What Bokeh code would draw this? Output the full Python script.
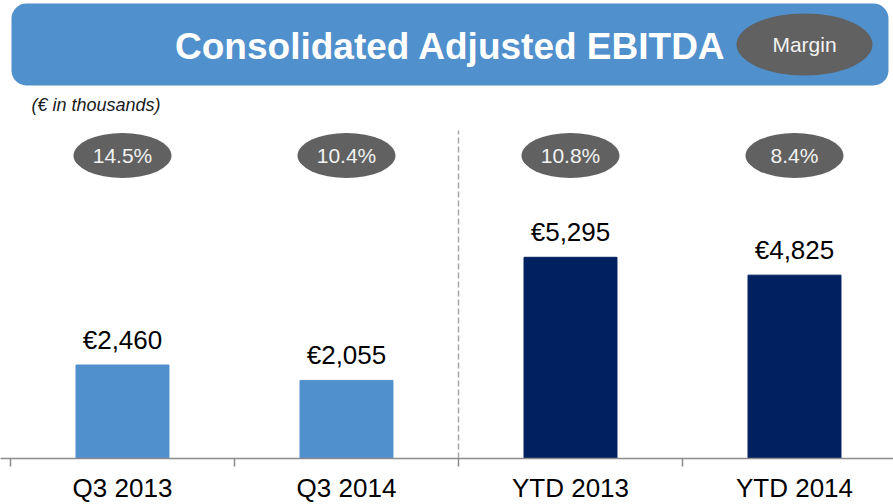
from bokeh.plotting import figure
from bokeh.models import ColumnDataSource, Range1d, BoxAnnotation, FixedTicker, Label
from bokeh.core.properties import value
from bokeh.embed import file_html
from bokeh.resources import INLINE

# ---- data ----
categories = ["Q3 2013", "Q3 2014", "YTD 2013", "YTD 2014"]
ebitda = [2460, 2055, 5295, 4825]          # € thousands
margins = [14.5, 10.4, 10.8, 8.4]          # %
title_text = "Consolidated Adjusted EBITDA"
unit_note = "(€ in thousands)"
badge_text = "Margin"

FONT = "Liberation Sans"
LIGHT = "#4F90CD"
DARK = "#002060"
GREY = "#616161"

n = len(categories)
xs = list(range(n))
bar_colors = [LIGHT, LIGHT, DARK, DARK]

src = ColumnDataSource(dict(
    x=xs,
    top=ebitda,
    color=bar_colors,
    label=[f"€{v:,}" for v in ebitda],
    mlabel=[f"{m:.1f}%" for m in margins],
    my=[7974] * n,
))

p = figure(frame_width=893, frame_height=458, output_backend="svg", toolbar_location=None,
           x_range=Range1d(-0.5446, 3.442), y_range=Range1d(0, 12053),
           y_axis_location=None,
           min_border_left=0, min_border_right=0, min_border_top=0, min_border_bottom=0)
p.outline_line_color = None
p.grid.visible = False
p.background_fill_color = "white"

# banner
banner = BoxAnnotation(left=-0.4955, right=3.4196, top=11974, bottom=9816,
                       fill_color=LIGHT, fill_alpha=1.0, line_color=None,
                       border_radius=15, level="underlay")
p.add_layout(banner)

p.add_layout(Label(x=1.4643, y=10842, text=title_text, text_align="center",
                   text_baseline="middle", text_font=FONT, text_font_style="bold",
                   text_font_size="37px", text_color="white"))

p.ellipse(x=[3.0446], y=[10895], width=136, height=62, width_units="screen",
          height_units="screen", fill_color=GREY, line_color=None)
p.text(x=[3.0446], y=[10895], text=[badge_text], text_align="center",
       text_baseline="middle", text_font=value(FONT), text_font_size="21px",
       text_color="#f2f2f2")

p.add_layout(Label(x=-0.4062, y=9316, text=unit_note, text_align="left",
                   text_baseline="middle", text_font=FONT, text_font_style="italic",
                   text_font_size="18px", text_color="#1a1a1a"))

# separator
p.segment(x0=[(n - 1) / 2], y0=[0], x1=[(n - 1) / 2], y1=[8632],
          line_dash="6 3", line_color="#a6a6a6", line_width=1.5)

# bars
p.vbar(x="x", top="top", width=0.415, bottom=0, color="color", source=src)

# value labels
p.text(x="x", y="top", text="label", source=src, text_align="center",
       text_baseline="alphabetic", y_offset=-25, text_font=value(FONT),
       text_font_size="26px", text_color="black")

# margin badges
p.ellipse(x="x", y="my", width=98, height=45, width_units="screen",
          height_units="screen", fill_color=GREY, line_color=None, source=src)
p.text(x="x", y="my", text="mlabel", source=src, text_align="center",
       text_baseline="middle", text_font=value(FONT), text_font_size="21px",
       text_color="#f2f2f2")

# x axis
ax = p.xaxis[0]
ax.ticker = FixedTicker(ticks=xs, minor_ticks=[i - 0.5 for i in range(n + 1)])
ax.major_label_overrides = {i: c for i, c in enumerate(categories)}
ax.major_tick_line_color = None
ax.major_tick_out = 0
ax.major_tick_in = 0
ax.minor_tick_out = 8
ax.minor_tick_in = 0
ax.minor_tick_line_color = "#8c8c8c"
ax.minor_tick_line_width = 1.5
ax.axis_line_color = "#8c8c8c"
ax.axis_line_width = 1.5
ax.major_label_standoff = 6
ax.major_label_text_font = FONT
ax.major_label_text_font_size = "26px"
ax.major_label_text_color = "black"

open("out.html", "w").write(file_html(p, INLINE))
